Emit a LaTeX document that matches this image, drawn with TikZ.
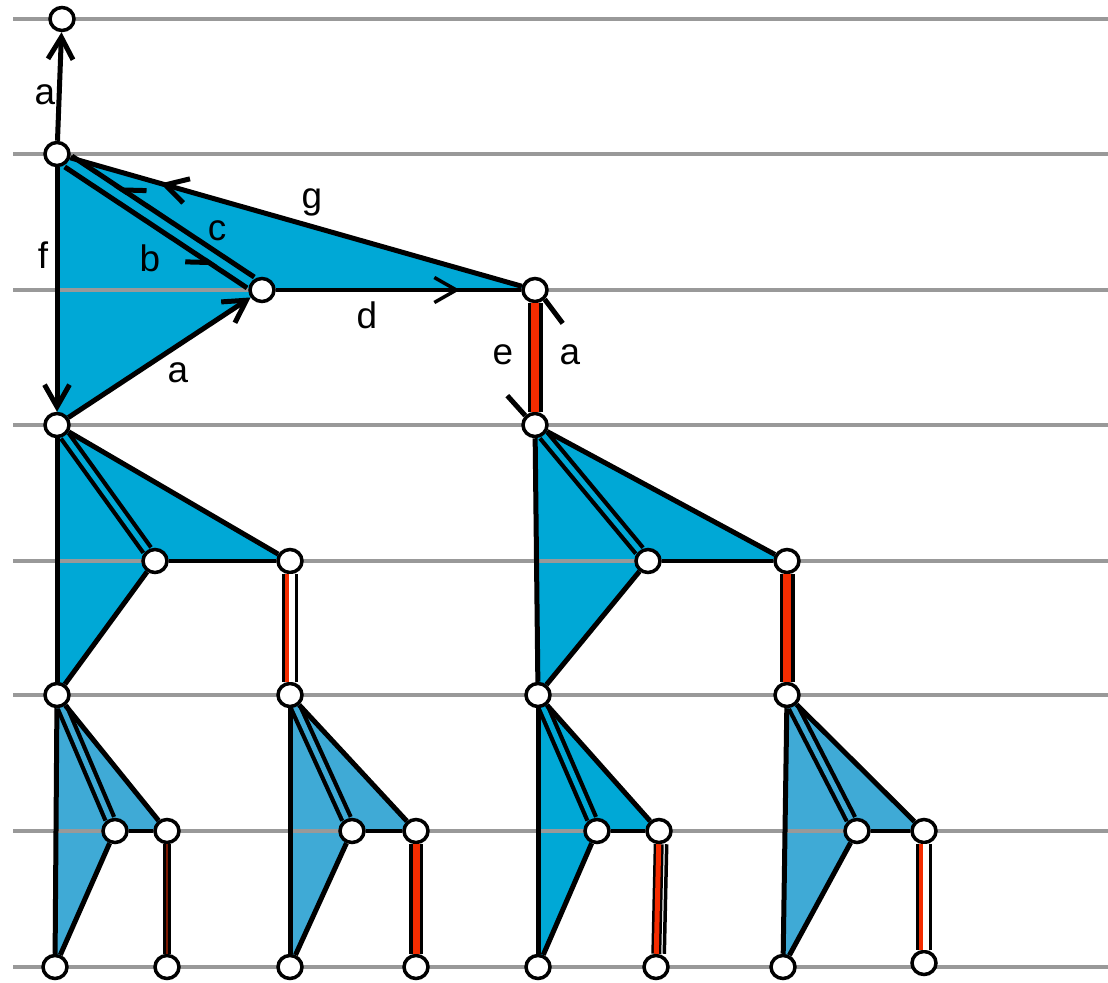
\documentclass[tikz,border=0pt]{standalone}
\usepackage{fontspec}
\setmainfont{Liberation Sans}
\usetikzlibrary{arrows.meta,shapes.geometric,decorations.markings,backgrounds}
\definecolor{fanblue}{HTML}{00A8D6}
\definecolor{fanpale}{HTML}{3FAAD6}
\definecolor{barred}{HTML}{F42C00}
\definecolor{rulegray}{HTML}{999999}

\begin{document}
\begin{tikzpicture}[x=0.02cm, y=-0.02cm,
    vtx/.style={ellipse, draw, fill=white, line width=0.07cm, minimum width=0.48cm, minimum height=0.46cm, inner sep=0pt},
    edge/.style={line width=0.1cm},
    thinedge/.style={line width=0.07cm},
    pair/.style={line width=0.085cm, double=fanblue, double distance=0.1cm},
    palepair/.style={line width=0.085cm, double=fanpale, double distance=0.1cm},
    redbar/.style={line width=0.07cm, double=barred, double distance=0.16cm},
    openbar/.style={line width=0.07cm, double=white, double distance=0.18cm},
    redline/.style={barred, line width=0.08cm},
    lbl/.style={font=\fontsize{21}{24}\selectfont, inner sep=0pt},
    barb/.style={-{Straight Barb[length=0.44cm, width=0.5cm]}},
    midbarb/.style={postaction={decorate}, decoration={markings, mark=at position #1 with {\arrow{Straight Barb[length=0.44cm, width=0.5cm]}}}},
    midharp/.style={postaction={decorate}, decoration={markings, mark=at position #1 with {\arrow{Straight Barb[harpoon, swap, length=0.4cm, width=0.5cm]}}}}]
  \useasboundingbox (0,0) rectangle (1108,983);

  % vertices
  \node[vtx] (top) at (62,19) {};
  \node[vtx] (A1) at (57,154) {};
  \node[vtx] (B1) at (262,290) {};
  \node[vtx] (C1) at (535,290) {};
  \node[vtx] (D1) at (57,425) {};
  \node[vtx] (E1) at (535,425) {};
  \node[vtx] (B2) at (155,561) {};
  \node[vtx] (C2) at (290,561) {};
  \node[vtx] (D2) at (57,695) {};
  \node[vtx] (E2) at (290,695) {};
  \node[vtx] (B3) at (648,561) {};
  \node[vtx] (C3) at (787,561) {};
  \node[vtx] (D3) at (538,695) {};
  \node[vtx] (E3) at (787,695) {};
  \node[vtx] (B4) at (115,831) {};
  \node[vtx] (C4) at (167,831) {};
  \node[vtx] (D4) at (55,967) {};
  \node[vtx] (E4) at (167,967) {};
  \node[vtx] (B5) at (352,831) {};
  \node[vtx] (C5) at (416,831) {};
  \node[vtx] (D5) at (290,967) {};
  \node[vtx] (E5) at (416,967) {};
  \node[vtx] (B6) at (597,831) {};
  \node[vtx] (C6) at (659,831) {};
  \node[vtx] (D6) at (538,967) {};
  \node[vtx] (E6) at (656,967) {};
  \node[vtx] (B7) at (857,831) {};
  \node[vtx] (C7) at (924,831) {};
  \node[vtx] (D7) at (783,967) {};
  \node[vtx] (E7) at (924,963) {};

  % faces and rules
  \begin{pgfonlayer}{background}
    \fill[fanblue] (A1.center) -- (C1.center) -- (B1.center) -- (D1.center) -- cycle;
    \fill[fanblue] (D1.center) -- (C2.center) -- (B2.center) -- (D2.center) -- cycle;
    \fill[fanblue] (E1.center) -- (C3.center) -- (B3.center) -- (D3.center) -- cycle;
    \fill[fanpale] (D2.center) -- (C4.center) -- (B4.center) -- (D4.center) -- cycle;
    \fill[fanpale] (E2.center) -- (C5.center) -- (B5.center) -- (D5.center) -- cycle;
    \fill[fanblue] (D3.center) -- (C6.center) -- (B6.center) -- (D6.center) -- cycle;
    \fill[fanpale] (E3.center) -- (C7.center) -- (B7.center) -- (D7.center) -- cycle;
    \foreach \y in {19,154,290,425,561,695,831,967}
      \draw[rulegray, line width=0.07cm] (13,\y) -- (1108,\y);
  \end{pgfonlayer}

  % top level
  \draw[edge, barb] (A1) -- (top);
  \draw[edge, barb] (A1) -- (D1);
  \draw[edge, midbarb=0.8] (C1) -- (A1);
  \draw[edge, midharp=0.76, transform canvas={shift={(3.6,-5.4)}}] (B1) -- (A1);
  \draw[edge, midharp=0.83, transform canvas={shift={(-3.6,5.4)}}] (A1) -- (B1);
  \draw[thinedge, midbarb=0.75] (B1) -- (C1);
  \draw[edge, barb] (D1) -- (B1);
  \draw[redbar] (C1) -- (E1);
  \draw[edge] (C1.south east) -- ++(18,24);
  \draw[edge] (E1.north west) -- ++(-18,-20);

  \node[lbl] (la1) at (45,95) {a};
  \node[lbl] (lf) at (43,255) {f};
  \node[lbl] (lb) at (150,258) {b};
  \node[lbl] (lc) at (217,231) {c};
  \node[lbl] (lg) at (312,202) {g};
  \node[lbl] (ld) at (367,315) {d};
  \node[lbl] (la2) at (178,373) {a};
  \node[lbl] (le) at (503,355) {e};
  \node[lbl] (la3) at (570,355) {a};

  % second level
  \draw[edge] (D1) -- (D2);
  \draw[pair] (D1) -- (B2);
  \draw[edge] (D1) -- (C2);
  \draw[thinedge] (B2) -- (C2);
  \draw[edge] (B2) -- (D2);
  \draw[openbar] (C2) -- (E2);
  \draw[redline, transform canvas={xshift=-0.054cm}] (C2) -- (E2);

  \draw[edge] (E1) -- (D3);
  \draw[pair] (E1) -- (B3);
  \draw[edge] (E1) -- (C3);
  \draw[thinedge] (B3) -- (C3);
  \draw[edge] (B3) -- (D3);
  \draw[redbar] (C3) -- (E3);

  % third level
  \draw[edge] (D2) -- (D4);
  \draw[palepair] (D2) -- (B4);
  \draw[edge] (D2) -- (C4);
  \draw[thinedge] (B4) -- (C4);
  \draw[edge] (B4) -- (D4);
  \draw[line width=0.06cm, double=barred!50!black, double distance=0.04cm] (C4) -- (E4);

  \draw[edge] (E2) -- (D5);
  \draw[palepair] (E2) -- (B5);
  \draw[edge] (E2) -- (C5);
  \draw[thinedge] (B5) -- (C5);
  \draw[edge] (B5) -- (D5);
  \draw[line width=0.07cm, double=barred, double distance=0.14cm] (C5) -- (E5);

  \draw[edge] (D3) -- (D6);
  \draw[pair] (D3) -- (B6);
  \draw[edge] (D3) -- (C6);
  \draw[thinedge] (B6) -- (C6);
  \draw[edge] (B6) -- (D6);
  \draw[line width=0.05cm, double=barred, double distance=0.1cm] (C6) -- (E6);
  \draw[thinedge, transform canvas={xshift=0.16cm}] (C6) -- (E6);

  \draw[edge] (E3) -- (D7);
  \draw[palepair] (E3) -- (B7);
  \draw[edge] (E3) -- (C7);
  \draw[thinedge] (B7) -- (C7);
  \draw[edge] (B7) -- (D7);
  \draw[openbar] (C7) -- (E7);
  \draw[redline, transform canvas={xshift=-0.054cm}] (C7) -- (E7);
\end{tikzpicture}
\end{document}
